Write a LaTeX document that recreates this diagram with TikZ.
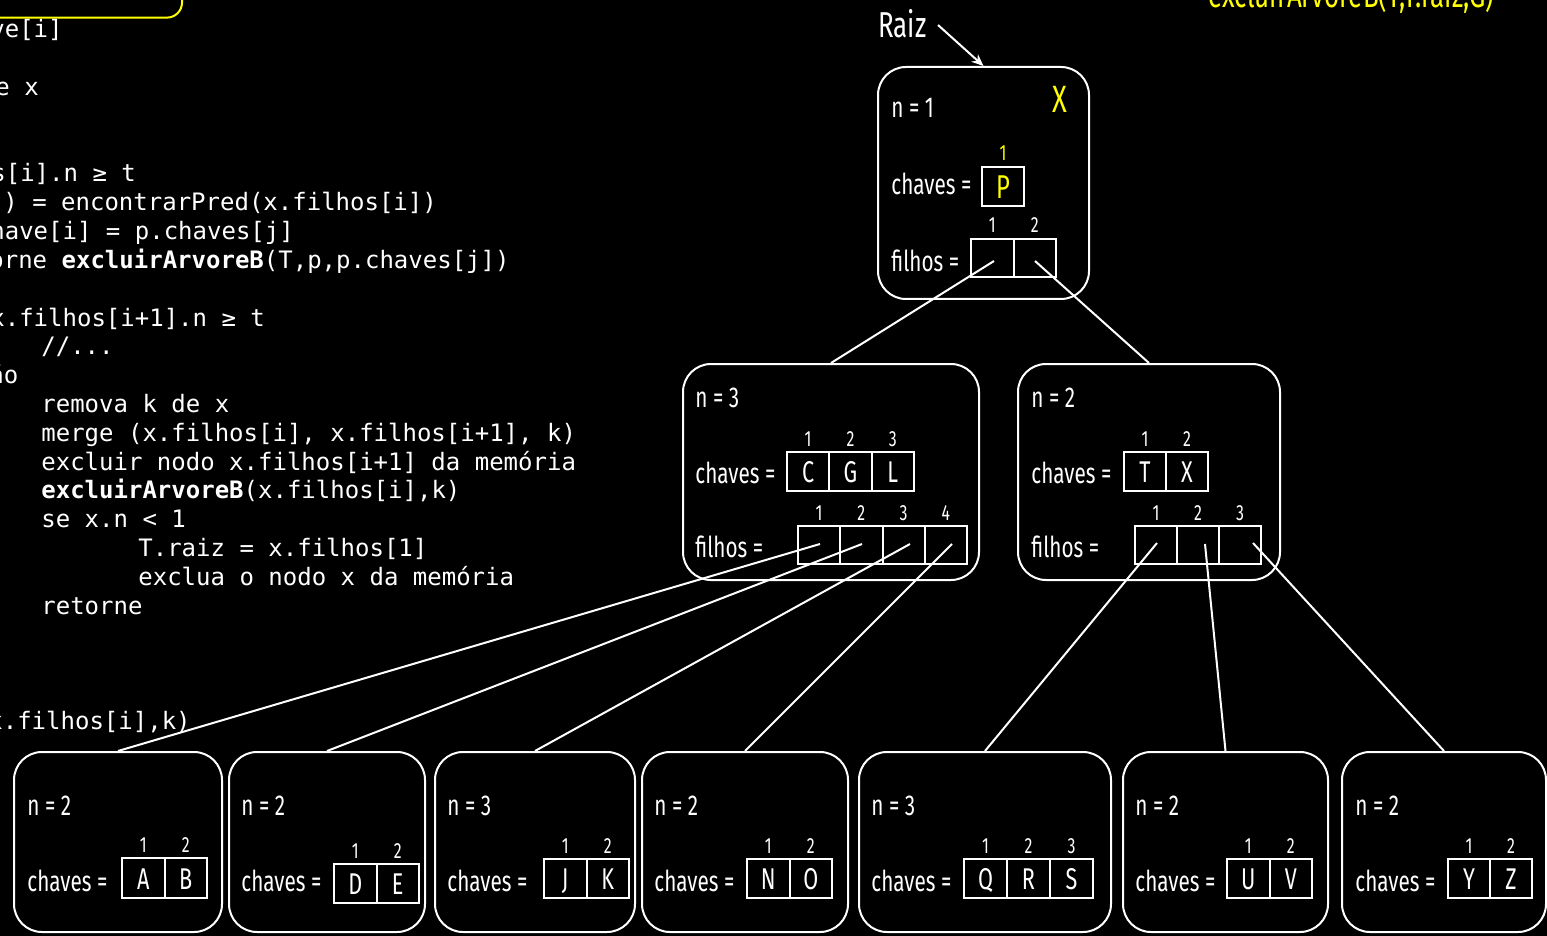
\documentclass[tikz,border=0pt]{standalone}
\usepackage{fontspec}
\setmonofont{DejaVu Sans Mono}
\newfontfamily\cond[FakeStretch=0.72]{Fira Sans}
\usetikzlibrary{arrows.meta}
\definecolor{ylw}{RGB}{255,255,0}
% key array: name, left, top, cell w, cell h, entries
\newcommand\karr[6]{%
  \foreach \k [count=\i] in {#6} {
    \node[keycell, minimum width={#4*0.5pt}, minimum height={#5*0.5pt}] (#1-\i) at ({#2+(\i-0.5)*#4}, {#3+#5/2}) {\k};
    \node[idx] (#1-n\i) at ({#2+(\i-0.5)*#4}, {#3-6}) {\i};
  }
}
% pointer array: name, left, top, cell w, cell h, count
\newcommand\parr[6]{%
  \foreach \i in {1,...,#6} {
    \node[keycell, minimum width={#4*0.5pt}, minimum height={#5*0.5pt}] (#1-\i) at ({#2+(\i-0.5)*#4}, {#3+#5/2}) {};
    \node[idx] (#1-n\i) at ({#2+(\i-0.5)*#4}, {#3-6}) {\i};
  }
}
\begin{document}
\begin{tikzpicture}[x=0.5pt,y=-0.5pt,
  bnode/.style={draw=white, line width=1pt, rounded corners=14pt, inner sep=0pt},
  lbl/.style={font=\cond\fontsize{14.4}{16}\selectfont, text=white, inner sep=0pt, anchor=base west},
  idx/.style={font=\cond\fontsize{11}{12}\selectfont, text=white, inner sep=0pt, anchor=base},
  keycell/.style={draw=white, line width=1pt, inner sep=0pt, text=white, text height=11pt, text depth=0pt, font=\cond\fontsize{15}{16}\selectfont},
  code/.style={font=\ttfamily\fontsize{12}{14}\selectfont, text=white, inner sep=0pt, anchor=base west},
  conn/.style={draw=white, line width=1pt},
  big/.style={font=\cond\fontsize{18}{20}\selectfont, inner sep=0pt, anchor=base west}
]
\useasboundingbox (0,0) rectangle (1547,936);
\clip (0,0) rectangle (1547,936);
\fill[black] (0,0) rectangle (1547,936);

% yellow box (top left, mostly outside)
\node[draw=ylw, line width=1pt, rounded corners=7.5pt, minimum width=120pt, minimum height=40pt, inner sep=0pt] (ybox) at (62,-22.4) {};

% code
\node[code] (c0) at (-10,38) {ve[i]};
\node[code] (c2) at (-5,95.6) {e x};
\node[code] (c5) at (-9,182) {s[i].n ≥ t};
\node[code] (c6) at (3,210.8) {) = encontrarPred(x.filhos[i])};
\node[code] (c7) at (-10,239.6) {have[i] = p.chaves[j]};
\node[code] (c8) at (-11,268.4) {orne \textbf{excluirArvoreB}(T,p,p.chaves[j])};
\node[code] (c10) at (-10,326) {x.filhos[i+1].n ≥ t};
\node[code] (c11) at (41,354.8) {//...};
\node[code] (c12) at (-11,383.6) {ão};
\node[code] (c13) at (41,412.4) {remova k de x};
\node[code] (c14) at (41,441.2) {merge (x.filhos[i], x.filhos[i+1], k)};
\node[code] (c15) at (41,470) {excluir nodo x.filhos[i+1] da memória};
\node[code] (c16) at (41,498.8) {\textbf{excluirArvoreB}(x.filhos[i],k)};
\node[code] (c17) at (41,527.6) {se x.n < 1};
\node[code] (c18) at (138,556.4) {T.raiz = x.filhos[1]};
\node[code] (c19) at (138,585.2) {exclua o nodo x da memória};
\node[code] (c20) at (41,614) {retorne};
\node[code] (c24) at (-12,729) {x.filhos[i],k)};

% top right yellow call
\node[big, text=ylw] (call) at (1208,7.5) {excluirArvoreB(T,T.raiz,G)};

% root
\node[big, text=white] (raiz) at (878,38) {Raiz};
\node[bnode, minimum width=105.5pt, minimum height=116pt] (root) at (983.5,183) {};
\node[lbl] (root-n) at (891,118) {n = 1};
\node[font=\cond\fontsize{19}{21}\selectfont, text=ylw, inner sep=0pt, anchor=base west] (rootX) at (1052,113) {X};
\node[lbl] (root-ch) at (891,195) {chaves =};
\node[keycell, minimum width=21pt, minimum height=19.5pt, text=ylw, text height=12pt, font=\cond\fontsize{16.5}{18}\selectfont] (rk-1) at (1003,186.5) {P};
\node[idx, text=ylw] (rk-n1) at (1003,161) {1};
\node[lbl] (root-fi) at (891,271) {filhos =};
\parr{rf}{971}{239}{42.5}{38}{2}
\coordinate (rp1) at (994,261);
\coordinate (rp2) at (1035,261);
\coordinate (rt) at (938,25);
\draw[conn, -{Stealth[length=6pt,width=5pt]}] (rt) -- (root.north);

% middle left
\node[bnode, minimum width=148pt, minimum height=108pt] (mL) at (831,472) {};
\node[lbl] (mL-n) at (695,407) {n = 3};
\node[lbl] (mL-ch) at (695,483) {chaves =};
\karr{mLk}{787}{452}{42.3}{39}{C,G,L}
\node[lbl] (mL-fi) at (695,557) {filhos =};
\parr{mLf}{798}{526}{42.25}{38}{4}
\coordinate (lp1) at (820,544);
\coordinate (lp2) at (862,544);
\coordinate (lp3) at (910,544);
\coordinate (lp4) at (952,544);

% middle right
\node[bnode, minimum width=131pt, minimum height=108pt] (mR) at (1149,472) {};
\node[lbl] (mR-n) at (1031,407) {n = 2};
\node[lbl] (mR-ch) at (1031,483) {chaves =};
\karr{mRk}{1124}{452}{42}{39}{T,X}
\node[lbl] (mR-fi) at (1031,557) {filhos =};
\parr{mRf}{1135}{526}{42}{38}{3}
\coordinate (rq1) at (1157,543);
\coordinate (rq2) at (1205,544);
\coordinate (rq3) at (1253,543);

% bottom nodes
\node[bnode, minimum width=104pt, minimum height=90pt] (b1) at (118,842) {};
\node[lbl] at (27,815) {n = 2};
\node[lbl] at (27,891) {chaves =};
\karr{b1k}{122}{858}{42.5}{40}{A,B}

\node[bnode, minimum width=98pt, minimum height=90pt] (b2) at (327,842) {};
\node[lbl] at (241,815) {n = 2};
\node[lbl] at (241,891) {chaves =};
\karr{b2k}{334}{864}{42.5}{39}{D,E}

\node[bnode, minimum width=100pt, minimum height=90pt] (b3) at (535,842) {};
\node[lbl] at (447,815) {n = 3};
\node[lbl] at (447,891) {chaves =};
\karr{b3k}{544}{859}{42.5}{39}{J,K}

\node[bnode, minimum width=103pt, minimum height=90pt] (b4) at (745,842) {};
\node[lbl] at (654,815) {n = 2};
\node[lbl] at (654,891) {chaves =};
\karr{b4k}{747}{859}{42.5}{39}{N,O}

\node[bnode, minimum width=126pt, minimum height=90pt] (b5) at (985,842) {};
\node[lbl] at (871,815) {n = 3};
\node[lbl] at (871,891) {chaves =};
\karr{b5k}{964}{859}{43}{39}{Q,R,S}

\node[bnode, minimum width=102.5pt, minimum height=90pt] (b6) at (1225.5,842) {};
\node[lbl] at (1135,815) {n = 2};
\node[lbl] at (1135,891) {chaves =};
\karr{b6k}{1227}{859}{42.5}{39}{U,V}

\node[bnode, minimum width=102pt, minimum height=90pt] (b7) at (1444,842) {};
\node[lbl] at (1355,815) {n = 2};
\node[lbl] at (1355,891) {chaves =};
\karr{b7k}{1448}{859}{42}{39}{Y,Z}

% connectors
\draw[conn] (rp1) -- (mL.north);
\draw[conn] (rp2) -- (mR.north);
\draw[conn] (lp1) -- (b1.north);
\draw[conn] (lp2) -- (b2.north);
\draw[conn] (lp3) -- (b3.north);
\draw[conn] (lp4) -- (b4.north);
\draw[conn] (rq1) -- (b5.north);
\draw[conn] (rq2) -- (b6.north);
\draw[conn] (rq3) -- (b7.north);
\end{tikzpicture}
\end{document}
